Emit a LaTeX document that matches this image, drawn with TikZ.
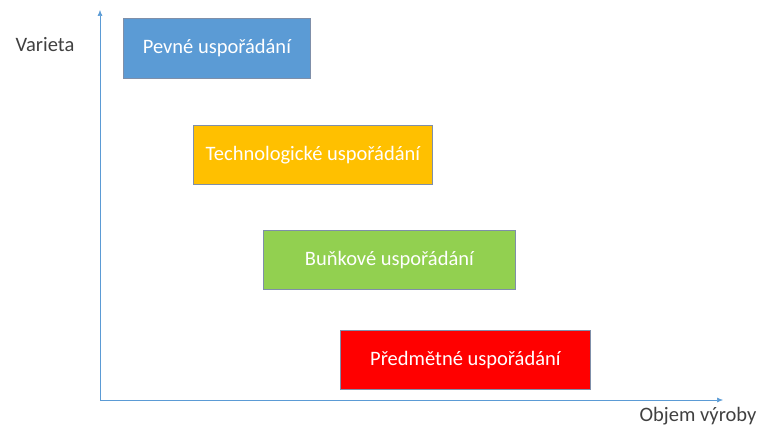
\documentclass[tikz,border=0pt]{standalone}
\usepackage{fontspec}
\setmainfont{Carlito}
\usetikzlibrary{arrows.meta}
\definecolor{axisblue}{HTML}{5B9BD5}
\definecolor{boxblue}{HTML}{5B9BD5}
\definecolor{boxorange}{HTML}{FFC000}
\definecolor{boxgreen}{HTML}{92D050}
\definecolor{boxred}{HTML}{FF0000}
\definecolor{edge}{HTML}{7F8FA9}
\definecolor{labelgray}{HTML}{404040}
\tikzset{
  stagebox/.style={draw=edge, line width=0.8pt, text=white, font=\fontsize{20.5}{24}\selectfont, anchor=north west, inner sep=0pt},
  axislabel/.style={text=labelgray, font=\fontsize{20.5}{24}\selectfont},
  axisline/.style={draw=axisblue, line width=0.6pt, -{Latex[length=6pt,width=5pt]}}
}
\begin{document}
\begin{tikzpicture}[x=1pt,y=-1pt]
\useasboundingbox (0,0) rectangle (760,425);
\coordinate (O) at (100,400);
\coordinate (ytop) at (100,10);
\coordinate (xend) at (723,400);
\draw[axisline] (O) -- (ytop);
\draw[axisline] (O) -- (xend);
\node[axislabel] (vy) at (45,45) {Varieta};
\node[axislabel] (vx) at (698,416) {Objem výroby};
\node[stagebox, fill=boxblue, minimum width=187pt, minimum height=60pt] (b1) at (123,18) {Pevné uspořádání};
\node[stagebox, fill=boxorange, minimum width=239pt, minimum height=59pt] (b2) at (193,125) {Technologické uspořádání};
\node[stagebox, fill=boxgreen, minimum width=252pt, minimum height=59pt] (b3) at (263,230) {Buňkové uspořádání};
\node[stagebox, fill=boxred, minimum width=250pt, minimum height=59pt] (b4) at (340,330) {Předmětné uspořádání};
\end{tikzpicture}
\end{document}
